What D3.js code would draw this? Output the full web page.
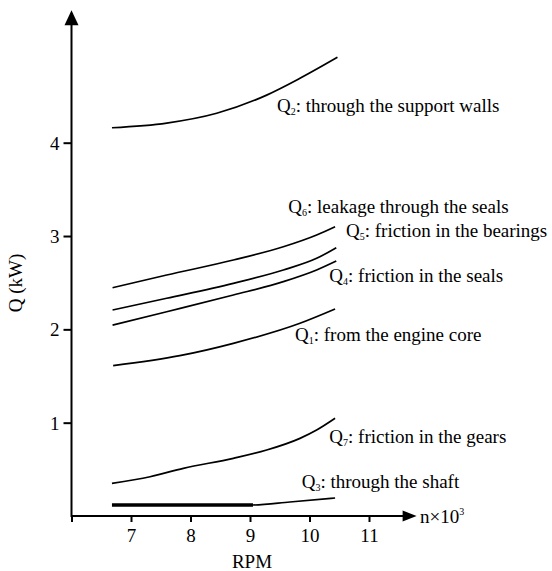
<!DOCTYPE html>
<html>
<head>
<meta charset="utf-8" />
<script src="https://cdn.jsdelivr.net/npm/d3@7"></script>
<title>Q vs RPM</title>
<style>
  body { margin: 0; background: #fff; }
  text { font-family: "Liberation Serif", "Times New Roman", serif; fill: #000; }
</style>
</head>
<body>
<svg width="552" height="571" id="mainsvg"></svg>
<script>
// heat flows Q (kW) against engine speed n (x10^3 RPM)
const q2 = [[6.68,4.16],[7.6,4.21],[8.44,4.315],[9.28,4.51],[9.84,4.69],[10.47,4.915]];
const q6 = [[6.69,2.446],[7.6,2.582],[8.72,2.743],[9.56,2.885],[10.12,3.011],[10.43,3.10]];
const q5 = [[6.69,2.207],[7.6,2.333],[8.72,2.493],[9.56,2.636],[10.12,2.761],[10.45,2.875]];
const q4 = [[6.69,2.046],[7.6,2.189],[8.72,2.368],[9.56,2.511],[10.12,2.636],[10.45,2.732]];
const q1 = [[6.7,1.611],[7.82,1.718],[8.72,1.85],[9.84,2.065],[10.43,2.218]];
const q7 = [[6.68,0.35],[7.32,0.421],[7.88,0.511],[8.72,0.618],[9.28,0.707],[9.84,0.832],[10.12,0.921],[10.43,1.047]];
const q3 = [[6.68,0.118],[9.05,0.118],[9.67,0.15],[10.43,0.193]];
const q3Thick = [6.68, 9.05];   // rpm range drawn bold

const xTicks = [6, 7, 8, 9, 10, 11];
const yTicks = [1, 2, 3, 4];

const series = [
  {sub: '2', text: ': through the support walls', data: q2},
  {sub: '6', text: ': leakage through the seals', data: q6},
  {sub: '5', text: ': friction in the bearings', data: q5},
  {sub: '4', text: ': friction in the seals', data: q4},
  {sub: '1', text: ': from the engine core', data: q1},
  {sub: '7', text: ': friction in the gears', data: q7},
  {sub: '3', text: ': through the shaft', data: q3}
];
// label anchors in data units (rpm, kW)
const labelPos = [[9.454,4.334],[9.644,3.25],[10.613,2.993],[10.333,2.51],[9.756,1.878],[10.333,0.779],[9.869,0.297]];

let svg = d3.select('#mainsvg');
const fs = 19;

const x = d3.scaleLinear().domain([6, 11]).range([71.5, 369]);
const y = d3.scaleLinear().domain([0, 4]).range([516, 142.7]);
const xEnd = 11.8, yEnd = 5.42;

// axes
const gx = svg.append('g').attr('transform', `translate(0,${y(0)})`)
  .call(d3.axisBottom(x).tickValues(xTicks).tickSize(6).tickSizeOuter(0)
    .tickFormat(d => d === 6 ? '' : d));
gx.select('.domain').remove();
gx.selectAll('.tick line').attr('stroke', '#000').attr('stroke-width', 2);
gx.selectAll('.tick text').attr('y', 26).attr('dy', 0)
  .style('font-size', fs + 'px').style('font-family', '"Liberation Serif", serif');

const gy = svg.append('g').attr('transform', `translate(${x(6)},0)`)
  .call(d3.axisLeft(y).tickValues(yTicks).tickSize(8).tickSizeOuter(0).tickFormat(d3.format('d')));
gy.select('.domain').remove();
gy.selectAll('.tick line').attr('stroke', '#000').attr('stroke-width', 2);
gy.selectAll('.tick text').attr('x', -12).attr('dy', '0.34em')
  .style('font-size', fs + 'px').style('font-family', '"Liberation Serif", serif');

svg.append('line').attr('x1', x(6)).attr('x2', x(xEnd) - 8)
  .attr('y1', y(0)).attr('y2', y(0)).attr('stroke', '#000').attr('stroke-width', 2);
svg.append('line').attr('x1', x(6)).attr('x2', x(6))
  .attr('y1', y(0) + 1).attr('y2', y(yEnd) + 10).attr('stroke', '#000').attr('stroke-width', 2);

// arrow heads
const ax = x(xEnd), ay = y(0);
svg.append('path').attr('d', `M${ax},${ay} L${ax - 14},${ay - 5.5} L${ax - 14},${ay + 5.5} Z`).attr('fill', '#000');
const bx = x(6), by = y(yEnd);
svg.append('path').attr('d', `M${bx},${by} L${bx - 7},${by + 15} L${bx + 7},${by + 15} Z`).attr('fill', '#000');

// curves
const line = d3.line().x(d => x(d[0])).y(d => y(d[1])).curve(d3.curveMonotoneX);
svg.selectAll('.curve').data(series).join('path')
  .attr('class', 'curve')
  .attr('d', d => line(d.data))
  .attr('fill', 'none').attr('stroke', '#000').attr('stroke-width', 1.7);

svg.append('path')
  .attr('d', line(q3.filter(d => d[0] >= q3Thick[0] && d[0] <= q3Thick[1])))
  .attr('fill', 'none').attr('stroke', '#000').attr('stroke-width', 3.6);

// curve labels
const lab = svg.selectAll('.lab').data(series).join('text')
  .attr('class', 'lab')
  .attr('x', (d, i) => x(labelPos[i][0]))
  .attr('y', (d, i) => y(labelPos[i][1]))
  .style('font-size', fs + 'px');
lab.append('tspan').text('Q');
lab.append('tspan').attr('dy', 3).style('font-size', '10px').text(d => d.sub);
lab.append('tspan').attr('dy', -3).text(d => d.text);

// axis titles
svg.append('text').attr('x', 252).attr('y', 568).attr('text-anchor', 'middle')
  .style('font-size', fs + 'px').text('RPM');
svg.append('text').attr('transform', 'translate(22,283) rotate(-90)')
  .attr('text-anchor', 'middle').style('font-size', fs + 'px').text('Q (kW)');
const nt = svg.append('text').attr('x', 420).attr('y', 523).style('font-size', fs + 'px');
nt.append('tspan').text('n×10');
nt.append('tspan').attr('dy', -8).style('font-size', '10px').text('3');
</script>
</body>
</html>
